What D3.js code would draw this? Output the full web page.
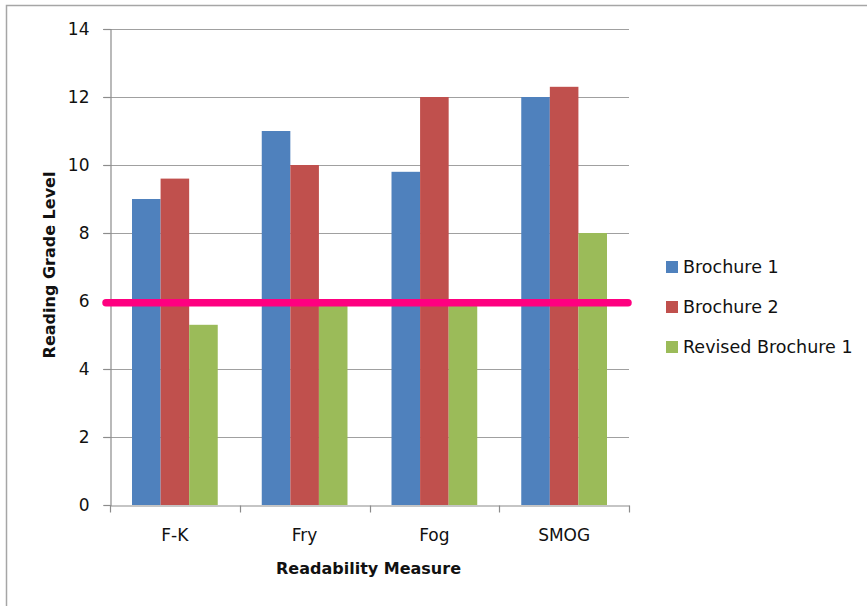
<!DOCTYPE html>
<html>
<head>
<meta charset="utf-8">
<script src="https://cdn.jsdelivr.net/npm/d3@7"></script>
<style>
  html, body { margin: 0; padding: 0; background: #fff; }
  svg { display: block; }
  text { font-family: "DejaVu Sans", sans-serif; fill: #111; }
</style>
</head>
<body>
<svg id="chart" width="867" height="606"></svg>
<script>
const categories = ["F-K", "Fry", "Fog", "SMOG"];
const seriesNames = ["Brochure 1", "Brochure 2", "Revised Brochure 1"];
const brochure1 = [9.0, 11.0, 9.8, 12.0];
const brochure2 = [9.6, 10.0, 12.0, 12.3];
const revised1 = [5.3, 5.9, 5.9, 8.0];
const yTicks = [0, 2, 4, 6, 8, 10, 12, 14];
const targetLevel = 5.95;
const colors = ["#4F81BD", "#C0504D", "#9BBB59"];

const seriesValues = [brochure1, brochure2, revised1];
const data = categories.map((c, i) => ({
  cat: c,
  vals: seriesNames.map((s, j) => ({ key: s, value: seriesValues[j][i], idx: j }))
}));

const svg = d3.select("#chart");
const W = 867, H = 606;
const plot = { left: 110, right: 629, top: 29, bottom: 505 };

// outer border
svg.append("rect")
  .attr("x", 6.5).attr("y", 5.5)
  .attr("width", W).attr("height", H)
  .attr("fill", "#fff")
  .attr("stroke", "#a6a6a6")
  .attr("stroke-width", 1.5);

const x = d3.scaleBand().domain(categories).range([plot.left, plot.right]).padding(0);
const xSub = d3.scaleBand().domain(seriesNames).range([0, x.bandwidth()])
  .paddingInner(0).paddingOuter(0.77);
const y = d3.scaleLinear().domain([0, 14]).range([plot.bottom, plot.top]);

// gridlines
svg.append("g")
  .selectAll("line")
  .data(yTicks.filter(t => t > 0))
  .join("line")
  .attr("x1", plot.left - 7).attr("x2", plot.right)
  .attr("y1", d => Math.round(y(d)) + 0.5).attr("y2", d => Math.round(y(d)) + 0.5)
  .attr("stroke", "#a0a0a0").attr("stroke-width", 1.2);

// bars
const groups = svg.append("g")
  .selectAll("g")
  .data(data)
  .join("g")
  .attr("transform", d => `translate(${x(d.cat)},0)`);

groups.selectAll("rect")
  .data(d => d.vals)
  .join("rect")
  .attr("x", d => xSub(d.key))
  .attr("width", xSub.bandwidth())
  .attr("y", d => y(d.value))
  .attr("height", d => y(0) - y(d.value))
  .attr("fill", d => colors[d.idx]);

// y axis
const yAxis = d3.axisLeft(y).tickValues(yTicks).tickSize(7).tickPadding(14);
const gy = svg.append("g")
  .attr("transform", `translate(${plot.left + 0.5},0)`)
  .call(yAxis);
gy.select(".domain").attr("stroke", "#8c8c8c").attr("stroke-width", 1.2);
gy.selectAll(".tick line").attr("stroke", "#8c8c8c").attr("stroke-width", 1.2);
gy.selectAll(".tick text")
  .style("font-family", "DejaVu Sans, sans-serif")
  .style("font-size", "17px")
  .attr("fill", "#111");

// x axis
const xAxis = d3.axisBottom(x).tickSize(0).tickPadding(23);
const gx = svg.append("g")
  .attr("transform", `translate(0,${plot.bottom + 0.5})`)
  .call(xAxis);
gx.select(".domain").attr("stroke", "#8c8c8c").attr("stroke-width", 1.2);
gx.selectAll(".tick text")
  .style("font-family", "DejaVu Sans, sans-serif")
  .style("font-size", "17px")
  .attr("fill", "#111");
// category boundary tick marks
const bounds = categories.map(c => x(c)).concat([x(categories[categories.length - 1]) + x.bandwidth()]);
gx.selectAll(".bound")
  .data(bounds)
  .join("line")
  .attr("class", "bound")
  .attr("x1", d => Math.round(d) + 0.5).attr("x2", d => Math.round(d) + 0.5)
  .attr("y1", 0).attr("y2", 7)
  .attr("stroke", "#8c8c8c").attr("stroke-width", 1.2);

// target line
svg.append("line")
  .attr("x1", plot.left - 4).attr("x2", plot.right - 1)
  .attr("y1", y(targetLevel)).attr("y2", y(targetLevel))
  .attr("stroke", "#FF0080")
  .attr("stroke-width", 7.5)
  .attr("stroke-linecap", "round");

// axis titles
svg.append("text")
  .attr("x", (plot.left + plot.right) / 2 - 1)
  .attr("y", 574)
  .attr("text-anchor", "middle")
  .style("font-size", "16px")
  .style("font-weight", "bold")
  .text("Readability Measure");

svg.append("text")
  .attr("transform", `translate(55,${(plot.top + plot.bottom) / 2 - 2}) rotate(-90)`)
  .attr("text-anchor", "middle")
  .style("font-size", "16px")
  .style("font-weight", "bold")
  .text("Reading Grade Level");

// legend
const legend = svg.append("g").attr("transform", "translate(666,267)");
const li = legend.selectAll("g")
  .data(seriesNames)
  .join("g")
  .attr("transform", (d, i) => `translate(0,${i * 40})`);
li.append("rect")
  .attr("x", 0).attr("y", -6)
  .attr("width", 12).attr("height", 12)
  .attr("fill", (d, i) => colors[i]);
li.append("text")
  .attr("x", 17).attr("y", 0)
  .attr("dy", "0.35em")
  .style("font-size", "17.5px")
  .text(d => d);
</script>
</body>
</html>
